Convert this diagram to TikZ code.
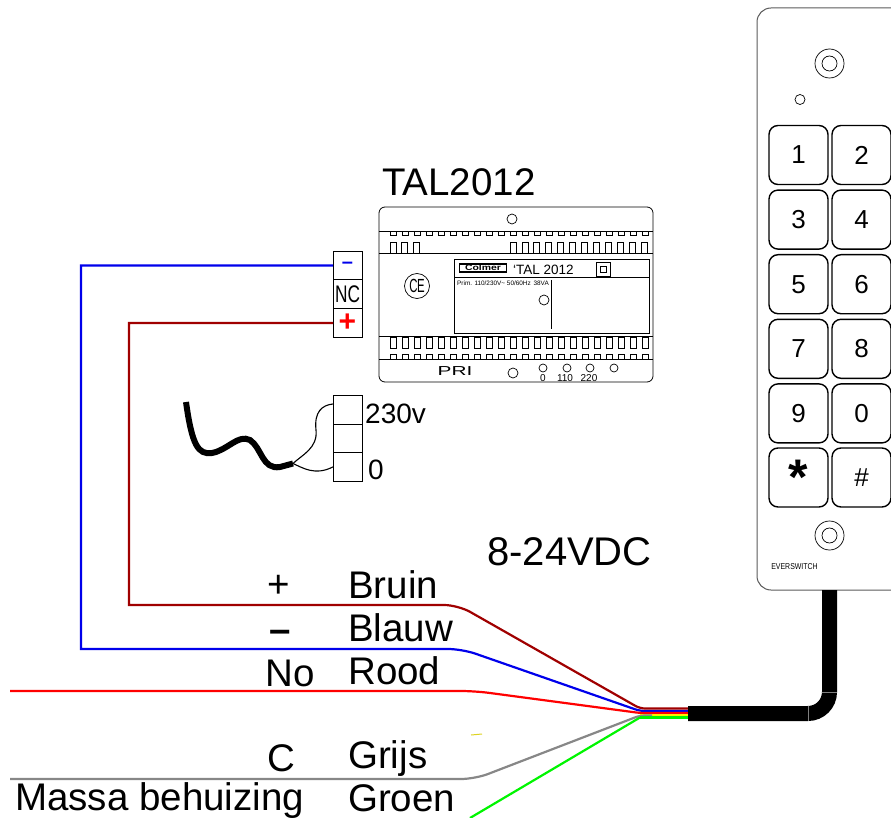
\documentclass[tikz,border=0pt]{standalone}
\usepackage{fontspec}
\usetikzlibrary{positioning}
\setmainfont{Liberation Sans}
\newcommand{\fsz}[1]{\fontsize{#1}{#1}\selectfont}
\definecolor{darkwire}{RGB}{160,0,0}
\definecolor{bluewire}{RGB}{0,0,235}
\definecolor{redwire}{RGB}{255,0,0}
\definecolor{greywire}{RGB}{135,135,135}
\definecolor{greenwire}{RGB}{0,245,0}
\definecolor{casegrey}{RGB}{90,90,90}
\tikzset{
    biglabel/.style={inner sep=0pt, anchor=base west, font=\fsz{38.5}},
    midlabel/.style={inner sep=0pt, font=\fsz{28}},
    keybox/.style={draw, line width=1.4pt, rounded corners=9pt, inner sep=0pt, minimum width=59pt, minimum height=59pt, font=\fsz{26}},
    terminal/.style={draw, line width=0.7pt, inner sep=0pt, minimum width=29pt, minimum height=28.7pt, outer sep=0pt},
    wire/.style={line width=2.2pt},
    slot/.style={line width=0.8pt},
    tiny/.style={inner sep=0pt, font=\fsz{#1}},
}
\begin{document}
\begin{tikzpicture}[x=1pt, y=-1pt]
    \useasboundingbox (0,0) rectangle (891,818);

    %% Keypad
    \begin{scope}
        % Case
        \draw[casegrey, line width=1pt, rounded corners=14pt] (757,60) -- (757,8) -- (910,8) -- (910,590) -- (757,590) -- cycle;
        % Screws and led
        \draw[line width=0.7pt] (829.5,63.5) circle(14.5) circle(7.5);
        \draw[line width=0.7pt] (829.5,535.5) circle(14.5) circle(7.5);
        \draw[line width=0.7pt] (800,99.5) circle(5);
        % Keys
        \foreach \txt/\col/\row in {1/0/0, 2/1/0, 3/0/1, 4/1/1, 5/0/2, 6/1/2, 7/0/3, 8/1/3, 9/0/4, 0/1/4}
            \node[keybox] (key\txt) at ({798.5+63*\col},{155+64.6*\row}) {\txt};
        \node[keybox, font=\fsz{50}\bfseries] (keystar) at (798.5,477.5) {\raisebox{-24pt}{*}};
        \node[keybox] (keyhash) at (861.5,477.5) {\#};
        \node[tiny=8.5] (brand) at (794.5,566.5) {\scalebox{0.82}[1]{EVERSWITCH}};
    \end{scope}

    %% Transformer
    \begin{scope}
        \draw[line width=0.8pt, rounded corners=6pt] (379,207) rectangle (653,382);
        \draw[slot] (379,231) -- (653,231);
        \draw[slot] (379,253) -- (653,253);
        \draw[slot] (379,336) -- (653,336);
        \draw[slot] (379,359) -- (653,359);
        % Slots
        \foreach \n in {0,...,21} {
            \draw[slot] ({390+12*\n},231) rectangle ++(6,4);
            \draw[slot] ({390+12*\n},337) rectangle ++(6.5,11);
            \draw[slot] ({390+12*\n},354) rectangle ++(6,5);
        }
        \foreach \n in {0,1,2} \draw[slot] ({390+11.8*\n},242) rectangle ++(6,11);
        \foreach \n in {0,...,11} \draw[slot] ({510+11.9*\n},242) rectangle ++(6,11);
        % Holes
        \foreach \x/\y/\r in {512/219/5, 513/373/5, 544/300/5, 543/368/4, 567/368/4, 590/368/4, 614/368/4}
            \draw[line width=0.7pt] (\x,\y) circle(\r);
        % Front plate
        \draw[line width=0.8pt] (454,259) rectangle (649,333);
        \draw[line width=0.7pt] (454,277) -- (649,277);
        \draw[line width=0.7pt] (551,280) -- (551,329);
        \draw[line width=0.7pt] (596,262) rectangle (610,276);
        \draw[line width=0.7pt] (600,266) rectangle (606,272);
        \node[draw, line width=1.2pt, inner sep=0pt, minimum width=47pt, minimum height=8pt, tiny=8] (logo) at (483,268) {\scalebox{1.3}[1]{\textbf{Colmer}}};
        \node[tiny=13.5, anchor=base west] (model) at (513,274) {`TAL 2012};
        \node[tiny=6.4, anchor=base west] (rating) at (457,285.5) {Prim. 110/230V\textasciitilde{} 50/60Hz\, 38VA};
        \node[draw, circle, line width=0.7pt, inner sep=0pt, minimum size=25pt, tiny=19] (ce) at (417,286) {\scalebox{0.6}[1]{C\hspace{-1pt}E}};
        \node[tiny=13, anchor=base] (pri) at (455,375) {\scalebox{1.6}[1]{PRI}};
        \node[tiny=10] (tap0) at (543,378) {0};
        \node[tiny=10] (tap110) at (565,378) {110};
        \node[tiny=10] (tap220) at (589,378) {220};
    \end{scope}
    \node[biglabel] (tal) at (382,196) {TAL2012};

    %% Terminals
    \node[terminal, text=bluewire, font=\fsz{20}\bfseries] (minus) at (347.5,265.5) {\raisebox{1pt}{–}};
    \node[terminal, font=\fsz{24}, below=0pt of minus] (nc) {\scalebox{0.72}[1]{NC}};
    \node[terminal, text=redwire, font=\fsz{30}\bfseries, below=0pt of nc] (plus) {+};
    \node[terminal] (mains) at (347.5,409.5) {};
    \node[terminal, below=0pt of mains] (spare) {};
    \node[terminal, below=0pt of spare] (zero) {};
    \node[midlabel, anchor=base west] (lbl230) at (365,423) {230v};
    \node[midlabel, anchor=base west] (lblzero) at (368,479) {0};

    % Mains lead
    \coordinate (split) at (293,463.5);
    \coordinate (mainsin) at (333,404);
    \draw[line width=6pt] (186,402) .. controls (192,445) and (198,455) .. (212,453) .. controls (228,450) and (238,434) .. (250,440) .. controls (262,448) and (262,470) .. (280,467) -- (split);
    \draw[line width=1.1pt] (split) .. controls (302,455) and (318,448) .. (316,430) .. controls (314,412) and (322,405) .. (mainsin);
    \draw[line width=1.1pt] (split) .. controls (303,468) and (315,476) .. (zero.west);

    %% Wires
    \coordinate (bluecorner) at (81,265.5);
    \coordinate (bluebend) at (81,649);
    \coordinate (bluerun) at (200,649);
    \coordinate (redcorner) at (129,323);
    \coordinate (redbend) at (129,605);
    \coordinate (redrun) at (200,605);

    \draw[wire, bluewire] (minus.west) -- (bluecorner) -- (bluebend) -- (bluerun) [rounded corners=14pt] -- (462,649) [rounded corners=5pt] -- (640,711) -- (688,711);
    \draw[wire, darkwire] (plus.west) -- (redcorner) -- (redbend) -- (redrun) [rounded corners=14pt] -- (458,605) [rounded corners=5pt] -- (640,708.5) -- (688,708.5);
    \draw[wire, redwire, rounded corners=14pt] (10,691) -- (475,691) [rounded corners=5pt] -- (640,713) -- (688,713);
    \draw[wire, yellow] (640,715) -- (688,715);
    \draw[wire, greywire, rounded corners=14pt] (10,779) -- (475,779) [rounded corners=5pt] -- (640,715.5) -- (652,715.5);
    \draw[wire, greenwire] (470,818) -- (640,717.5);
    \draw[wire, greenwire, line width=3pt] (640,717.5) -- (688,717.5);
    \draw[line width=1pt, yellow!85!black] (471,735) -- (482,734);

    % Cable
    \draw[line width=15pt] (688,713.5) -- (808,713.5) arc[start angle=90, end angle=0, radius=21.5] -- (829.5,590);
    \draw[gray, line width=0.4pt] (808,706) -- (808,721);
    \draw[gray, line width=0.4pt] (822,692) -- (837,692);

    % Labels
    \node[biglabel, font=\fsz{40}] (volt) at (487,565) {8-24VDC};
    \node[biglabel] (bruin) at (348,598) {Bruin};
    \node[biglabel] (blauw) at (348,641) {Blauw};
    \node[biglabel] (rood) at (348,684) {Rood};
    \node[biglabel] (grijs) at (348,768) {Grijs};
    \node[biglabel] (groen) at (348,811) {Groen};
    \node[biglabel] (massa) at (15,810) {Massa behuizing};
    \node[biglabel, anchor=base] (plussign) at (279,597) {+};
    \node[biglabel, anchor=base] (minussign) at (280,642) {\textbf{–}};
    \node[biglabel, anchor=base] (no) at (290,686) {No};
    \node[biglabel, anchor=base] (c) at (281,771) {C};

\end{tikzpicture}
\end{document}
